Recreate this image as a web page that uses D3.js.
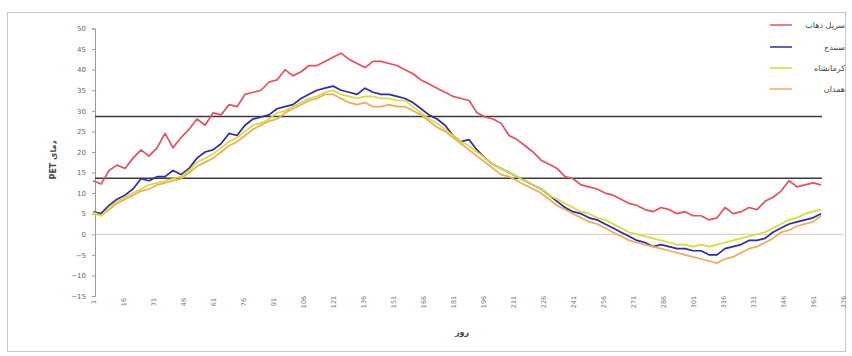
<!DOCTYPE html>
<html><head><meta charset="utf-8">
<script src="https://cdn.jsdelivr.net/npm/d3@7"></script>
<style>body{margin:0;background:#fff}svg{display:block}text{font-family:"DejaVu Sans",sans-serif}</style>
</head><body>
<svg id="c" width="852" height="356"></svg>
<script>
// sampled every 4 days: day 1,5,9,...,365
const days = d3.range(1, 366, 4);
const seriesNames = ["سرپل ذهاب", "سنندج", "کرمانشاه", "همدان"];
const sarpolZahab = [13.0,12.2,15.5,16.8,16.0,18.5,20.5,19.0,21.0,24.5,21.0,23.5,25.5,28.0,26.5,29.5,29.0,31.5,31.0,34.0,34.5,35.0,37.0,37.5,40.0,38.5,39.5,41.0,41.0,42.0,43.0,44.0,42.5,41.5,40.5,42.0,42.0,41.5,41.0,40.0,39.0,37.5,36.5,35.5,34.5,33.5,33.0,32.5,29.5,28.5,28.0,27.0,24.0,23.0,21.5,20.0,18.0,17.0,16.0,14.0,13.5,12.0,11.5,11.0,10.0,9.5,8.5,7.5,7.0,6.0,5.5,6.5,6.0,5.0,5.5,4.5,4.5,3.5,4.0,6.5,5.0,5.5,6.5,6.0,8.0,9.0,10.5,13.0,11.5,12.0,12.5,12.0];
const sanandaj = [5.5,5.0,7.0,8.5,9.5,11.0,13.5,13.0,14.0,14.0,15.5,14.5,16.0,18.5,20.0,20.5,22.0,24.5,24.0,26.5,28.0,28.5,29.0,30.5,31.0,31.5,33.0,34.0,35.0,35.5,36.0,35.0,34.5,34.0,35.5,34.5,34.0,34.0,33.5,33.0,32.0,30.5,29.0,28.0,26.5,24.0,22.5,23.0,20.5,18.5,17.0,16.0,15.0,14.0,13.0,12.0,11.0,9.5,8.0,6.5,5.5,5.0,4.0,3.5,2.5,1.5,0.5,-0.5,-1.5,-2.0,-3.0,-2.5,-3.0,-3.5,-3.5,-4.0,-4.0,-5.0,-5.0,-3.5,-3.0,-2.5,-1.5,-1.5,-1.0,0.5,1.5,2.5,3.0,3.5,4.0,5.0];
const kermanshah = [5.0,4.5,6.5,8.0,9.0,10.0,11.0,12.0,12.5,13.0,13.5,14.0,15.5,17.5,18.5,19.5,21.0,22.5,23.5,25.0,26.5,27.0,28.0,29.5,30.0,31.0,32.0,33.0,33.5,34.5,35.0,34.0,33.5,33.0,33.5,33.5,33.0,33.0,32.5,32.5,31.0,29.5,28.0,27.0,25.5,24.0,22.5,21.5,20.0,18.5,17.0,16.0,15.0,14.0,13.0,12.0,11.0,9.5,8.5,7.5,6.5,5.5,5.0,4.0,3.5,2.5,1.5,0.5,0.0,-0.5,-1.0,-1.5,-2.0,-2.5,-2.5,-3.0,-2.5,-3.0,-2.5,-2.0,-1.5,-1.0,-0.5,0.0,0.5,1.5,2.5,3.5,4.0,5.0,5.5,6.0];
const hamedan = [5.5,4.5,6.0,7.5,8.5,9.5,10.5,11.0,12.0,12.5,13.0,13.5,15.0,16.5,17.5,18.5,20.0,21.5,22.5,24.0,25.5,26.5,27.5,28.0,29.5,30.5,31.5,32.5,33.0,34.0,34.0,33.0,32.0,31.5,32.0,31.0,31.0,31.5,31.0,31.0,30.0,29.0,27.5,26.0,25.0,23.5,22.0,20.5,19.0,17.5,16.0,14.5,14.0,13.0,12.0,11.0,10.0,8.5,7.0,6.0,5.0,4.0,3.0,2.5,1.5,0.5,-0.5,-1.5,-2.0,-2.5,-3.0,-3.5,-4.0,-4.5,-5.0,-5.5,-6.0,-6.5,-7.0,-6.0,-5.5,-4.5,-3.5,-3.0,-2.0,-1.0,0.5,1.0,2.0,2.5,3.0,4.5];
const refLines = [28.6, 13.6];
const yTicks = [50,45,40,35,30,25,20,15,10,5,0,-5,-10,-15];
const xTicks = d3.range(1, 377, 15);
const colors = ["#e8505e", "#2a2ab5", "#d6de2e", "#f0aa55"];

const svg = d3.select("#c");
svg.append("rect").attr("x",7.5).attr("y",12.5).attr("width",838).attr("height",339)
  .attr("fill","#fff").attr("stroke","#c8c8c8");

const x = d3.scaleLinear().domain([1, 376]).range([93, 843]);
const y = d3.scaleLinear().domain([-15, 50]).range([296, 28.5]);

// y axis
const yAxis = d3.axisLeft(y).tickValues(yTicks).tickSize(3).tickPadding(6);
const ga = svg.append("g").attr("transform","translate(95,0)").call(yAxis);
ga.select(".domain").attr("stroke","#999");
ga.selectAll(".tick line").attr("stroke","#999");
ga.selectAll(".tick text").attr("fill","#666").style("font-size","7px");

// x axis labels (rotated)
const xAxis = d3.axisBottom(x).tickValues(xTicks).tickSize(0).tickPadding(0);
const gx = svg.append("g").attr("transform","translate(0,302)").call(xAxis);
gx.select(".domain").remove();
gx.selectAll(".tick text").attr("fill","#777").style("font-size","6.5px")
  .attr("transform","rotate(-90)").attr("text-anchor","middle").attr("dy","0.32em").attr("y",0).attr("x",0);

// zero line
svg.append("line").attr("x1",95).attr("x2",843).attr("y1",y(0)).attr("y2",y(0))
  .attr("stroke","#d9c6b0").attr("stroke-width",1);
// reference lines
svg.selectAll(".ref").data(refLines).enter().append("line")
  .attr("x1",95).attr("x2",822).attr("y1",d=>y(d)).attr("y2",d=>y(d))
  .attr("stroke","#3a3a3a").attr("stroke-width",1.6);

const line = d3.line().x((d,i)=>x(days[i])).y(d=>y(d));
const data = [sarpolZahab, sanandaj, kermanshah, hamedan];
const order = [0,1,3,2];
order.forEach(k=>{
  svg.append("path").datum(data[k]).attr("d",line).attr("fill","none")
    .attr("stroke",colors[k]).attr("stroke-width",1.7).attr("stroke-linejoin","round");
});

// titles
svg.append("text").attr("transform","translate(56,160) rotate(-90)").attr("text-anchor","middle")
  .attr("direction","rtl").style("font-size","8px").style("font-weight","bold").attr("fill","#444").text("دمای PET");
svg.append("text").attr("x",462).attr("y",335).attr("text-anchor","middle")
  .style("font-size","8px").style("font-weight","bold").attr("fill","#444").text("روز");

// legend
const ly = [25,47,68,89];
seriesNames.forEach((n,i)=>{
  svg.append("line").attr("x1",770).attr("x2",792).attr("y1",ly[i]).attr("y2",ly[i])
    .attr("stroke",colors[i]).attr("stroke-width",1.5);
  svg.append("text").attr("x",845).attr("y",ly[i]).attr("dy","0.35em").attr("text-anchor","start")
    .attr("direction","rtl").style("font-size","8px").attr("fill","#444").text(n);
});
</script>
</body></html>
